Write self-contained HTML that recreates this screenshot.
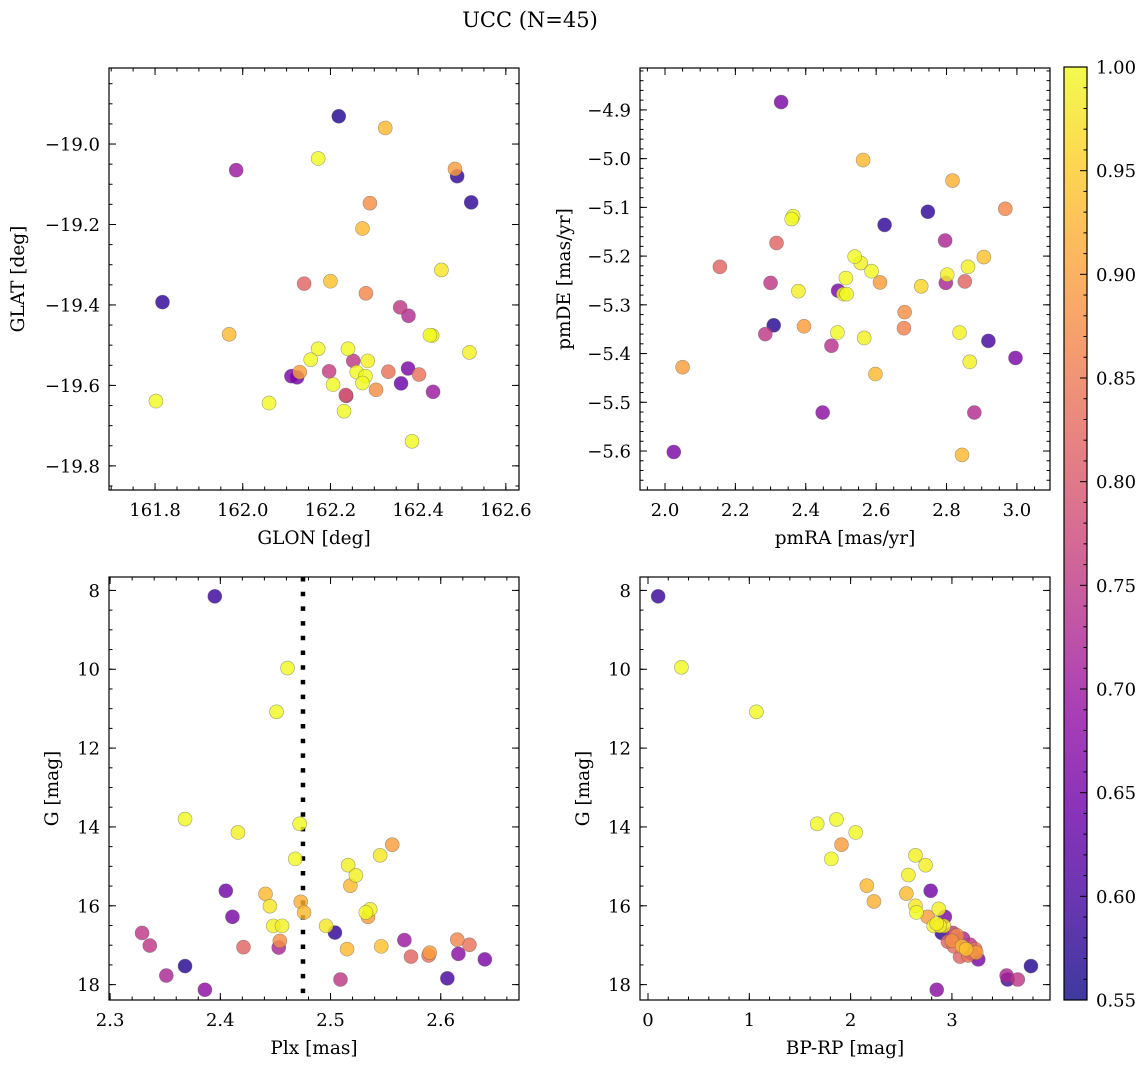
<!DOCTYPE html>
<html><head><meta charset="utf-8"><style>
html,body{margin:0;padding:0;background:#fff;}
svg{display:block;font-family:"DejaVu Serif","Liberation Serif",serif;}
</style></head><body>
<svg id="fig" width="1148" height="1067" viewBox="0 0 1148 1067" xmlns="http://www.w3.org/2000/svg">
<text x="530" y="27" font-size="21" text-anchor="middle">UCC (N=45)</text>
</svg>
<script>
// Panel 1: GLON vs GLAT
const p1Glon=[162.219,162.325,162.172,161.985,162.484,162.489,162.521,162.290,162.273,162.453,162.140,162.200,162.281,161.817,162.359,162.378,161.969,162.427,162.432,162.517,162.172,162.240,162.155,162.252,162.285,162.111,162.124,162.130,162.197,162.260,162.280,162.273,162.332,162.377,162.402,162.361,162.304,162.206,162.434,162.235,161.802,162.060,162.231,162.386,162.236];
const p1Glat=[-18.931,-18.960,-19.036,-19.065,-19.062,-19.080,-19.145,-19.147,-19.210,-19.313,-19.347,-19.341,-19.371,-19.393,-19.406,-19.427,-19.473,-19.475,-19.476,-19.518,-19.509,-19.509,-19.536,-19.539,-19.539,-19.577,-19.580,-19.567,-19.565,-19.567,-19.577,-19.594,-19.566,-19.558,-19.573,-19.595,-19.611,-19.598,-19.616,-19.624,-19.639,-19.644,-19.664,-19.739,-19.626];
const p1Prob=[0.57,0.93,1.00,0.70,0.90,0.58,0.58,0.88,0.93,0.98,0.82,0.94,0.87,0.58,0.75,0.73,0.93,1.00,0.99,0.99,1.00,1.00,1.00,0.75,0.99,0.66,0.65,0.90,0.76,1.00,1.00,1.00,0.84,0.66,0.84,0.64,0.88,1.00,0.70,0.80,1.00,1.00,1.00,1.00,0.74];
// Panel 2: pmRA vs pmDE
const p2Pmra=[2.330,2.563,2.817,2.967,2.747,2.364,2.360,2.624,2.317,2.796,2.906,2.539,2.556,2.156,2.861,2.587,2.802,2.300,2.611,2.798,2.852,2.728,2.514,2.379,2.492,2.507,2.516,2.681,2.679,2.309,2.395,2.285,2.490,2.566,2.837,2.473,2.919,2.996,2.866,2.050,2.598,2.448,2.879,2.025,2.844];
const p2Pmde=[-4.884,-5.003,-5.045,-5.103,-5.109,-5.118,-5.124,-5.136,-5.173,-5.168,-5.202,-5.201,-5.214,-5.222,-5.222,-5.231,-5.238,-5.255,-5.254,-5.255,-5.252,-5.262,-5.245,-5.272,-5.271,-5.278,-5.278,-5.315,-5.348,-5.342,-5.344,-5.360,-5.357,-5.368,-5.357,-5.384,-5.374,-5.409,-5.417,-5.428,-5.442,-5.521,-5.521,-5.602,-5.608];
const p2Prob=[0.66,0.93,0.92,0.87,0.58,1.00,1.00,0.58,0.82,0.72,0.94,1.00,0.99,0.82,0.99,1.00,0.99,0.75,0.90,0.72,0.82,0.96,1.00,0.99,0.66,0.99,1.00,0.88,0.86,0.57,0.90,0.75,1.00,0.99,0.99,0.74,0.60,0.66,0.99,0.90,0.93,0.68,0.73,0.66,0.93];
// Panel 3: Plx vs G
const p3Plx=[2.395,2.461,2.451,2.368,2.416,2.472,2.468,2.556,2.545,2.516,2.523,2.518,2.405,2.441,2.473,2.445,2.476,2.536,2.532,2.534,2.411,2.448,2.456,2.496,2.504,2.329,2.454,2.453,2.336,2.421,2.515,2.546,2.567,2.573,2.590,2.589,2.615,2.626,2.616,2.640,2.368,2.351,2.386,2.509,2.606];
const p3G=[8.15,9.97,11.08,13.80,14.14,13.92,14.81,14.45,14.72,14.97,15.23,15.49,15.62,15.70,15.90,16.01,16.17,16.09,16.17,16.28,16.28,16.51,16.51,16.51,16.68,16.69,16.89,17.06,17.01,17.05,17.10,17.03,16.87,17.29,17.19,17.26,16.86,16.99,17.22,17.36,17.53,17.77,18.13,17.87,17.84];
const p3Prob=[0.59,1.00,1.00,1.00,0.99,1.00,1.00,0.90,0.98,0.99,0.99,0.93,0.65,0.93,0.92,0.98,0.93,0.99,1.00,0.90,0.66,0.99,0.99,0.98,0.58,0.75,0.88,0.72,0.75,0.82,0.93,0.94,0.70,0.82,0.90,0.84,0.87,0.84,0.68,0.66,0.57,0.72,0.68,0.75,0.60];
const plxLine=2.475;
// Panel 4: BP-RP vs G
const p4Bprp=[0.10,0.33,1.07,1.67,1.86,2.05,1.91,1.81,2.64,2.74,2.57,2.16,2.79,2.55,2.23,2.64,2.87,2.65,2.76,2.93,2.82,2.88,2.92,2.90,3.01,3.00,3.11,2.96,3.18,3.10,3.14,3.24,3.08,3.16,3.26,3.20,3.23,3.05,3.78,3.54,3.65,3.55,2.85,2.85,3.02];
const p4G=[8.15,9.95,11.08,13.92,13.81,14.14,14.45,14.81,14.72,14.97,15.22,15.49,15.62,15.69,15.89,16.00,16.08,16.17,16.28,16.28,16.51,16.51,16.51,16.69,16.69,16.89,16.83,16.91,16.99,17.03,17.10,17.19,17.29,17.26,17.36,17.22,17.10,16.75,17.53,17.77,17.87,17.87,18.13,16.45,17.03];
const p4Prob=[0.59,1.00,1.00,1.00,1.00,1.00,0.90,1.00,0.99,0.99,0.99,0.93,0.65,0.93,0.92,0.98,0.99,1.00,0.90,0.66,0.99,0.99,0.98,0.58,0.75,0.88,0.72,0.82,0.75,0.93,0.94,0.90,0.82,0.84,0.66,0.68,0.84,0.87,0.57,0.72,0.75,0.60,0.68,0.99,0.83];
const cbTicks=["0.55","0.60","0.65","0.70","0.75","0.80","0.85","0.90","0.95","1.00"];

const NS="http://www.w3.org/2000/svg";
const svg=document.getElementById('fig');
const plasma=[[13,8,135],[65,4,157],[106,0,168],[143,13,164],[177,42,144],[204,71,120],[225,100,98],[242,132,75],[252,166,54],[252,206,37],[240,249,33]];
const VMIN=0.55,VMAX=1.0;
function cmap(v){let t=(v-VMIN)/(VMAX-VMIN);t=Math.max(0,Math.min(1,t));const s=t*10,i=Math.min(9,Math.floor(s)),f=s-i;const a=plasma[i],b=plasma[i+1];return 'rgb('+[0,1,2].map(k=>Math.round(a[k]+(b[k]-a[k])*f)).join(',')+')';}
function el(tag,attrs,parent){const e=document.createElementNS(NS,tag);for(const k in attrs)e.setAttribute(k,attrs[k]);(parent||svg).appendChild(e);return e;}
function fmt(v,d){const s=Math.abs(v).toFixed(d);return (v<-1e-9?'\u2212':'')+s;}

function panel(cfg){
  const g=el('g',{});
  
  
  const {L,T,R,B}=cfg;
  const sx=v=>L+(v-cfg.x0)/(cfg.x1-cfg.x0)*(R-L);
  const sy=v=>cfg.yinv? T+(v-cfg.y0)/(cfg.y1-cfg.y0)*(B-T) : B-(v-cfg.y0)/(cfg.y1-cfg.y0)*(B-T);
  const tg=el('g',{stroke:'#000','stroke-width':1},g);
  
  
  function ticksX(step,len){const s=Math.ceil(cfg.x0/step-1e-6);for(let k=s;k*step<=cfg.x1+1e-9;k++){const x=sx(k*step);el('line',{x1:x,x2:x,y1:B,y2:B-len},tg);el('line',{x1:x,x2:x,y1:T,y2:T+len},tg);}}
  function ticksY(step,len){const lo=Math.min(cfg.y0,cfg.y1),hi=Math.max(cfg.y0,cfg.y1);const s=Math.ceil(lo/step-1e-6);for(let k=s;k*step<=hi+1e-9;k++){const y=sy(k*step);el('line',{x1:L,x2:L+len,y1:y,y2:y},tg);el('line',{x1:R,x2:R-len,y1:y,y2:y},tg);}}
  ticksX(cfg.xminor,3.5);ticksX(cfg.xmajor,7);ticksY(cfg.yminor,3.5);ticksY(cfg.ymajor,7);
  const xs=Math.ceil(cfg.x0/cfg.xmajor-1e-6);
  for(let k=xs;k*cfg.xmajor<=cfg.x1+1e-9;k++){const v=k*cfg.xmajor;const t=el('text',{x:sx(v),y:B+26,'font-size':18,'text-anchor':'middle'},g);t.textContent=fmt(v,cfg.xdec);}
  const lo=Math.min(cfg.y0,cfg.y1),hi=Math.max(cfg.y0,cfg.y1);
  for(let k=Math.ceil(lo/cfg.ymajor-1e-6);k*cfg.ymajor<=hi+1e-9;k++){const v=k*cfg.ymajor;const t=el('text',{x:L-9,y:sy(v)+6.5,'font-size':18,'text-anchor':'end'},g);t.textContent=fmt(v,cfg.ydec);}
  const xl=el('text',{x:(L+R)/2,y:B+54,'font-size':18.5,'text-anchor':'middle'},g);xl.textContent=cfg.xlabel;
  
  
  const yl=el('text',{x:0,y:0,'font-size':18.5,'text-anchor':'middle',transform:'translate('+(cfg.ylx)+','+((T+B)/2)+') rotate(-90)'},g);yl.textContent=cfg.ylabel;
  
  
  if(cfg.vline!==undefined){const x=sx(cfg.vline);const ln=el('line',{x1:x,x2:x,y1:T,y2:B,stroke:'#000','stroke-width':4.5,'stroke-dasharray':'4.5 10.2'},g);}
  const pg=el('g',{},g);
  
  
  const idx=cfg.xs.map((_,i)=>i).sort((a,b)=>cfg.c[a]-cfg.c[b]);
  idx.forEach(i=>{const c=el('circle',{cx:sx(cfg.xs[i]),cy:sy(cfg.ys[i]),r:7,fill:cmap(cfg.c[i]),'fill-opacity':0.82,stroke:'rgba(90,90,90,0.55)','stroke-width':0.6},pg);
    
    });
  const fr=el('rect',{x:L,y:T,width:R-L,height:B-T,fill:'none',stroke:'#000','stroke-width':1.2},g);
  
  
}
panel({name:'glon-glat-panel',L:109,T:68,R:519,B:490,x0:161.695,x1:162.63,y0:-19.860,y1:-18.811,xmajor:0.2,xminor:0.05,ymajor:0.2,yminor:0.05,xdec:1,ydec:1,xlabel:'GLON [deg]',ylabel:'GLAT [deg]',ylx:24,xs:p1Glon,ys:p1Glat,c:p1Prob});
panel({name:'pm-panel',L:640,T:68,R:1050,B:490,x0:1.929,x1:3.094,y0:-5.680,y1:-4.814,xmajor:0.2,xminor:0.05,ymajor:0.1,yminor:0.02,xdec:1,ydec:1,xlabel:'pmRA [mas/yr]',ylabel:'pmDE [mas/yr]',ylx:570,xs:p2Pmra,ys:p2Pmde,c:p2Prob});
panel({name:'plx-g-panel',L:109,T:577,R:519,B:1000,x0:2.299,x1:2.671,y0:7.66,y1:18.39,yinv:true,xmajor:0.1,xminor:0.02,ymajor:2,yminor:0.5,xdec:1,ydec:0,xlabel:'Plx [mas]',ylabel:'G [mag]',ylx:58,xs:p3Plx,ys:p3G,c:p3Prob,vline:plxLine});
panel({name:'cmd-panel',L:640,T:577,R:1050,B:1000,x0:-0.079,x1:3.968,y0:7.66,y1:18.39,yinv:true,xmajor:1,xminor:0.2,ymajor:2,yminor:0.5,xdec:0,ydec:0,xlabel:'BP-RP [mag]',ylabel:'G [mag]',ylx:589,xs:p4Bprp,ys:p4G,c:p4Prob});

const cb=el('g',{});


const CL=1064,CR=1087,CT=67,CB=1000;
const defs=el('defs',{},cb);
const grad=el('linearGradient',{id:'cbg',x1:0,y1:1,x2:0,y2:0},defs);
plasma.forEach((p,i)=>el('stop',{offset:(i/10),'stop-color':'rgb('+p.join(',')+')'},grad));
el('rect',{x:CL,y:CT,width:CR-CL,height:CB-CT,fill:'url(#cbg)','fill-opacity':0.8},cb);
const cy=v=>CB-(v-VMIN)/(VMAX-VMIN)*(CB-CT);
for(let k=55;k<=100;k++){const y=cy(k/100);el('line',{x1:CR,x2:CR-(k%5===0?7:3.5),y1:y,y2:y,stroke:'#000','stroke-width':1},cb);}
cbTicks.forEach(s=>{const t=el('text',{x:CR+9,y:cy(parseFloat(s))+6.5,'font-size':18},cb);t.textContent=s;
  
  });
el('rect',{x:CL,y:CT,width:CR-CL,height:CB-CT,fill:'none',stroke:'#000','stroke-width':1.2},cb);
</script>
</body></html>
